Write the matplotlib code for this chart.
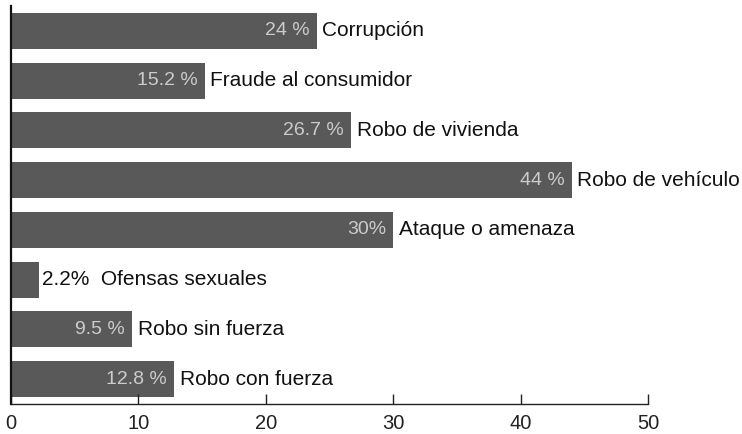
import matplotlib
matplotlib.use("Agg")
import matplotlib.pyplot as plt

categories = ["Corrupción", "Fraude al consumidor", "Robo de vivienda", "Robo de vehículo",
              "Ataque o amenaza", "Ofensas sexuales", "Robo sin fuerza", "Robo con fuerza"]
values = [24, 15.2, 26.7, 44, 30, 2.2, 9.5, 12.8]
value_labels = ["24 %", "15.2 %", "26.7 %", "44 %", "30%", "2.2%", "9.5 %", "12.8 %"]
xticks = [0, 10, 20, 30, 40, 50]

plt.rcParams['font.family'] = ['Liberation Sans', 'DejaVu Sans']

fig = plt.figure(figsize=(7.42, 4.34), dpi=100)
ax = fig.add_axes([11/742, 30/434, 637/742, 398/434])

n = len(categories)
ys = [n - 1 - i for i in range(n)]
ax.barh(ys, values, height=0.72, color="#595959", edgecolor="none")

for y, v, lab, cat in zip(ys, values, value_labels, categories):
    if v < 5:
        ax.annotate(f"{lab}  {cat}", (v, y), xytext=(2, 0), textcoords="offset points",
                    ha="left", va="center", fontsize=15, color="#111111")
    else:
        ax.annotate(lab, (v, y), xytext=(-5, 0), textcoords="offset points",
                    ha="right", va="center", fontsize=14, color="#cccccc")
        ax.annotate(cat, (v, y), xytext=(4, 0), textcoords="offset points",
                    ha="left", va="center", fontsize=15, color="#111111")

ax.set_xlim(0, 50)
ax.set_ylim(-0.5, n - 0.5)
ax.set_xticks(xticks)
ax.set_xticklabels([str(t) for t in xticks], fontsize=14.5, color="#222222")
ax.set_yticks([])
ax.tick_params(axis="x", direction="in", length=7, width=1, pad=7, color="#222222")
for s in ["top", "right"]:
    ax.spines[s].set_visible(False)
ax.spines["left"].set_linewidth(1.6)
ax.spines["left"].set_color("#111111")
ax.spines["bottom"].set_linewidth(1.0)
ax.spines["bottom"].set_color("#222222")

fig.savefig("out.png", dpi=100)
